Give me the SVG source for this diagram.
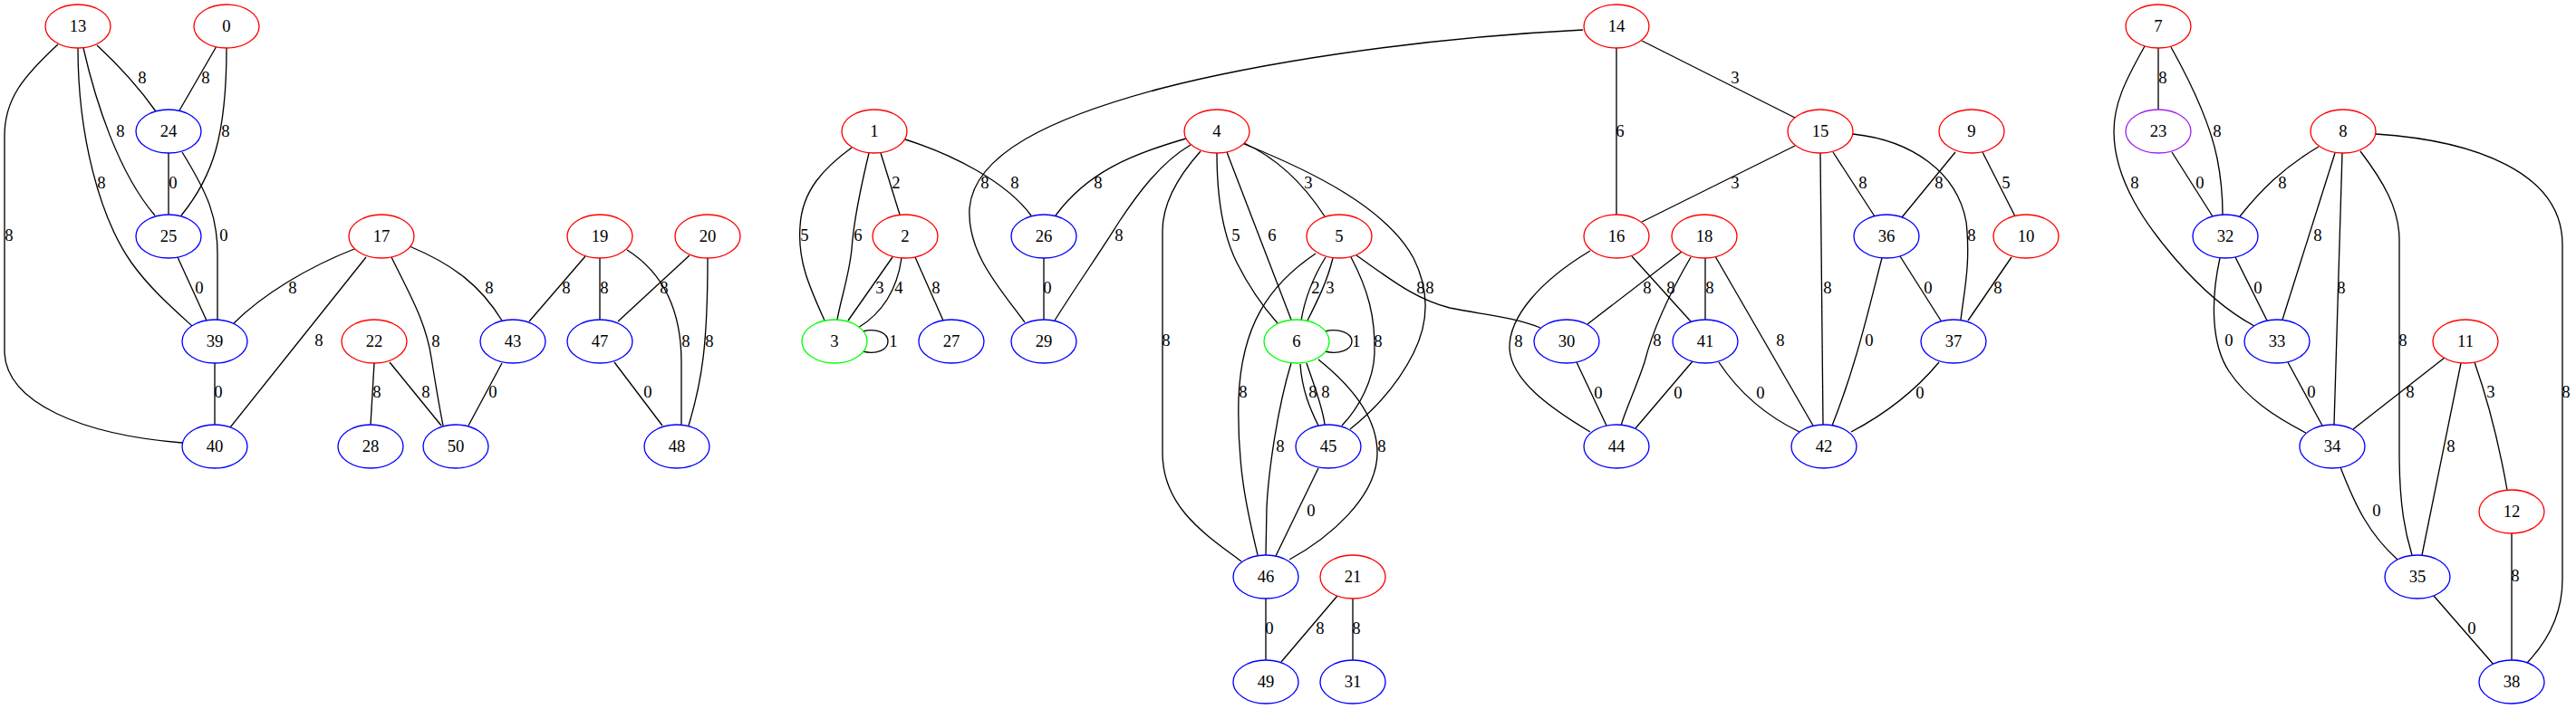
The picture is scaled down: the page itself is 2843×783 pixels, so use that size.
<svg xmlns="http://www.w3.org/2000/svg" width="2843" height="783" viewBox="0 0 2843 783">
<style>
text{font-family:"Liberation Serif","Times New Roman",serif;font-size:18.67px;text-anchor:middle;fill:#000}
.n ellipse{fill:#fff;stroke-width:1.33}
.r{stroke:#ff0000}.b{stroke:#0000ff}.g{stroke:#00ff00}.p{stroke:#a020f0}
#edges path{fill:none;stroke:#000;stroke-width:1.33}
</style>
<rect width="2843" height="783" fill="#fff"/>
<g id="edges">
<g id="e13_24"><path d="M107,50 Q145,85 172,123"/><text x="157" y="92">8</text></g>
<g id="e0_24"><path d="M239,51 L198,122"/><text x="227" y="92">8</text></g>
<g id="e13_25"><path d="M92,53 C105,110 130,190 171,238"/><text x="133" y="151">8</text></g>
<g id="e0_25"><path d="M250,53 C250,150 235,195 200,238"/><text x="249" y="151">8</text></g>
<g id="e13_39"><path d="M86,53 C86,150 110,240 145,290 C165,318 190,340 212,360"/><text x="112" y="208">8</text></g>
<g id="e24_25"><path d="M186,169 L186,237"/><text x="191" y="208">0</text></g>
<g id="e24_39"><path d="M201,168 C230,215 240,240 240,280 L240,353"/><text x="247" y="266">0</text></g>
<g id="e13_40"><path d="M64,49 C25,85 5,110 5,150 L5,390 C8,445 90,480 201,489"/><text x="10" y="266">8</text></g>
<g id="e25_39"><path d="M196,284 L228,354"/><text x="220" y="324">0</text></g>
<g id="e17_39"><path d="M391,275 C340,295 290,325 258,357"/><text x="323" y="324">8</text></g>
<g id="e17_40"><path d="M404,284 L254,472"/><text x="352" y="382">8</text></g>
<g id="e39_40"><path d="M237,401 L237,469"/><text x="241" y="439">0</text></g>
<g id="e22_28"><path d="M413,401 L409,469"/><text x="416" y="439">8</text></g>
<g id="e22_50"><path d="M430,400 L487,470"/><text x="470" y="439">8</text></g>
<g id="e17_50"><path d="M432,284 C452,325 470,355 476,395 C480,420 485,450 489,470"/><text x="481" y="383">8</text></g>
<g id="e17_43"><path d="M452,272 C500,292 530,315 554,354"/><text x="540" y="324">8</text></g>
<g id="e19_43"><path d="M646,283 L584,355"/><text x="625" y="324">8</text></g>
<g id="e19_47"><path d="M662,285 L662,353"/><text x="667" y="324">8</text></g>
<g id="e20_47"><path d="M761,282 L682,355"/><text x="733" y="324">8</text></g>
<g id="e19_48"><path d="M692,276 C730,300 752,340 752,400 L752,469"/><text x="757" y="383">8</text></g>
<g id="e20_48"><path d="M781,285 C781,380 775,420 760,470"/><text x="783" y="383">8</text></g>
<g id="e43_50"><path d="M554,401 L517,470"/><text x="544" y="439">0</text></g>
<g id="e47_48"><path d="M678,400 L731,470"/><text x="715" y="439">0</text></g>

<g id="e1_3a"><path d="M940,163 C910,185 885,210 883,250 C880,290 895,320 910,354"/><text x="888" y="266">5</text></g>
<g id="e1_3b"><path d="M959,169 C948,215 942,245 940,275 C937,305 928,330 924,353"/><text x="947" y="266">6</text></g>
<g id="e1_2"><path d="M972,169 L993,237"/><text x="989" y="208">2</text></g>
<g id="e2_3a"><path d="M985,284 L936,354"/><text x="971" y="324">3</text></g>
<g id="e2_3b"><path d="M995,285 C990,320 975,345 947,362"/><text x="992" y="324">4</text></g>
<g id="e3_3"><path d="M952,366 C968,362 980,368 980,377 C980,386 968,392 952,388"/><text x="986" y="383">1</text></g>
<g id="e2_27"><path d="M1010,284 L1041,354"/><text x="1033" y="324">8</text></g>
<g id="e1_26"><path d="M999,154 C1050,170 1110,200 1138,238"/><text x="1120" y="208">8</text></g>
<g id="e4_26"><path d="M1309,153 C1250,170 1200,190 1165,238"/><text x="1212" y="208">8</text></g>
<g id="e4_29"><path d="M1314,160 C1280,180 1255,215 1235,245 C1210,285 1185,320 1164,354"/><text x="1235" y="266">8</text></g>
<g id="e26_29"><path d="M1152,285 L1152,353"/><text x="1156" y="324">0</text></g>
<g id="e14_29"><path d="M1747,33 C1550,43 1380,72 1280,98 C1160,130 1075,170 1070,230 C1067,280 1105,320 1131,356"/><text x="1087" y="208">8</text></g>
<g id="e4_46"><path d="M1325,167 C1300,195 1283,225 1283,255 L1283,500 C1283,560 1330,590 1370,620"/><text x="1287" y="382">8</text></g>
<g id="e4_6a"><path d="M1343,169 C1343,220 1350,260 1365,290 C1380,320 1395,340 1410,357"/><text x="1364" y="266">5</text></g>
<g id="e4_6b"><path d="M1354,168 L1425,353"/><text x="1404" y="266">6</text></g>
<g id="e4_5"><path d="M1373,158 C1410,175 1440,205 1462,239"/><text x="1444" y="208">3</text></g>
<g id="e4_45"><path d="M1373,159 C1450,190 1530,230 1560,285 C1580,325 1575,360 1560,390 C1545,420 1520,450 1490,474"/><text x="1568" y="324">8</text></g>
<g id="e5_30"><path d="M1497,282 C1530,305 1560,330 1600,340 C1640,348 1670,350 1700,362"/><text x="1578" y="324">8</text></g>
<g id="e5_6a"><path d="M1463,284 C1450,305 1440,330 1436,354"/><text x="1452" y="324">2</text></g>
<g id="e5_6b"><path d="M1471,285 C1465,310 1455,330 1443,354"/><text x="1468" y="324">3</text></g>
<g id="e6_6"><path d="M1462,366 C1478,362 1492,368 1492,377 C1492,386 1478,392 1462,388"/><text x="1497" y="383">1</text></g>
<g id="e5_46"><path d="M1452,280 C1400,315 1370,360 1367,440 C1365,520 1378,570 1388,613"/><text x="1372" y="439">8</text></g>
<g id="e5_45"><path d="M1491,284 C1510,320 1518,350 1517,390 C1516,420 1500,450 1481,470"/><text x="1521" y="383">8</text></g>
<g id="e6_46a"><path d="M1425,401 C1410,450 1400,520 1398,560 L1397,613"/><text x="1413" y="499">8</text></g>
<g id="e6_45a"><path d="M1435,402 C1437,430 1445,450 1455,470"/><text x="1449" y="439">8</text></g>
<g id="e6_45b"><path d="M1442,401 C1450,425 1460,450 1462,469"/><text x="1463" y="439">8</text></g>
<g id="e6_46b"><path d="M1455,397 C1490,425 1520,460 1520,500 C1520,550 1465,595 1423,618"/><text x="1525" y="499">8</text></g>
<g id="e45_46"><path d="M1455,517 L1408,614"/><text x="1447" y="570">0</text></g>
<g id="e46_49"><path d="M1397,661 L1397,729"/><text x="1401" y="700">0</text></g>
<g id="e21_49"><path d="M1476,658 L1414,731"/><text x="1457" y="700">8</text></g>
<g id="e21_31"><path d="M1493,661 L1493,729"/><text x="1497" y="700">8</text></g>

<g id="e14_16"><path d="M1784,53 L1784,237"/><text x="1788" y="151">6</text></g>
<g id="e14_15"><path d="M1812,45 L1981,130"/><text x="1915" y="92">3</text></g>
<g id="e15_16"><path d="M1981,161 L1812,245"/><text x="1915" y="208">3</text></g>
<g id="e15_42"><path d="M2009,169 L2012,469"/><text x="2017" y="324">8</text></g>
<g id="e15_36"><path d="M2023,168 L2069,239"/><text x="2056" y="208">8</text></g>
<g id="e15_37"><path d="M2045,148 C2110,155 2160,190 2170,245 C2175,290 2168,320 2164,353"/><text x="2176" y="266">8</text></g>
<g id="e9_36"><path d="M2158,168 L2099,240"/><text x="2140" y="208">8</text></g>
<g id="e9_10"><path d="M2188,168 L2224,239"/><text x="2214" y="208">5</text></g>
<g id="e10_37"><path d="M2220,284 L2172,354"/><text x="2205" y="324">8</text></g>
<g id="e36_37"><path d="M2097,283 L2142,354"/><text x="2128" y="324">0</text></g>
<g id="e36_42"><path d="M2077,285 C2065,330 2050,400 2022,470"/><text x="2063" y="382">0</text></g>
<g id="e37_42"><path d="M2140,400 C2115,430 2085,455 2043,477"/><text x="2119" y="440">0</text></g>
<g id="e16_44"><path d="M1755,277 C1700,310 1665,350 1666,385 C1668,420 1710,450 1755,477"/><text x="1676" y="383">8</text></g>
<g id="e16_41"><path d="M1801,283 L1866,355"/><text x="1844" y="324">8</text></g>
<g id="e18_30"><path d="M1856,278 L1752,358"/><text x="1818" y="324">8</text></g>
<g id="e18_41"><path d="M1882,285 L1882,353"/><text x="1887" y="324">8</text></g>
<g id="e18_44"><path d="M1866,284 C1845,320 1825,360 1815,400 C1805,430 1795,450 1789,470"/><text x="1829" y="382">8</text></g>
<g id="e18_42"><path d="M1893,283 L2001,470"/><text x="1965" y="382">8</text></g>
<g id="e30_44"><path d="M1740,400 L1773,470"/><text x="1764" y="440">0</text></g>
<g id="e41_44"><path d="M1868,399 L1805,473"/><text x="1852" y="440">0</text></g>
<g id="e41_42"><path d="M1897,400 Q1930,450 1986,477"/><text x="1943" y="440">0</text></g>

<g id="e7_23"><path d="M2382,53 L2382,121"/><text x="2387" y="92">8</text></g>
<g id="e7_32"><path d="M2396,52 C2420,95 2440,140 2447,175 C2452,200 2453,220 2453,237"/><text x="2447" y="151">8</text></g>
<g id="e7_33"><path d="M2367,51 C2345,90 2333,115 2333,145 C2333,200 2370,250 2400,285 C2430,320 2460,345 2488,360"/><text x="2356" y="208">8</text></g>
<g id="e23_32"><path d="M2397,168 L2442,239"/><text x="2428" y="208">0</text></g>
<g id="e8_32"><path d="M2559,162 C2520,185 2495,210 2472,239"/><text x="2519" y="208">8</text></g>
<g id="e8_33"><path d="M2577,169 L2519,353"/><text x="2558" y="266">8</text></g>
<g id="e8_34"><path d="M2585,169 L2576,469"/><text x="2584" y="324">8</text></g>
<g id="e8_35"><path d="M2605,167 C2630,200 2648,230 2648,265 L2648,500 C2648,560 2655,590 2662,613"/><text x="2652" y="382">8</text></g>
<g id="e8_38"><path d="M2622,148 C2730,155 2828,190 2828,270 L2828,640 C2828,680 2810,710 2789,732"/><text x="2832" y="439">8</text></g>
<g id="e32_33"><path d="M2467,284 L2502,354"/><text x="2492" y="324">0</text></g>
<g id="e32_34"><path d="M2450,285 C2440,330 2440,380 2460,410 C2480,440 2510,460 2545,478"/><text x="2460" y="382">0</text></g>
<g id="e33_34"><path d="M2525,400 L2563,470"/><text x="2551" y="439">0</text></g>
<g id="e11_34"><path d="M2698,395 L2597,474"/><text x="2660" y="439">8</text></g>
<g id="e11_35"><path d="M2716,401 L2673,613"/><text x="2705" y="499">8</text></g>
<g id="e11_12"><path d="M2731,400 C2745,440 2758,490 2767,541"/><text x="2749" y="439">3</text></g>
<g id="e34_35"><path d="M2583,516 C2600,560 2615,590 2646,618"/><text x="2623" y="570">0</text></g>
<g id="e12_38"><path d="M2772,589 L2772,729"/><text x="2776" y="642">8</text></g>
<g id="e35_38"><path d="M2686,658 L2753,735"/><text x="2728" y="700">0</text></g>
</g>

<g id="n0" class="n"><ellipse class="r" cx="250" cy="29" rx="36" ry="24"/><text x="250" y="35">0</text></g>
<g id="n1" class="n"><ellipse class="r" cx="965" cy="145" rx="36" ry="24"/><text x="965" y="151">1</text></g>
<g id="n2" class="n"><ellipse class="r" cx="999" cy="261" rx="36" ry="24"/><text x="999" y="267">2</text></g>
<g id="n3" class="n"><ellipse class="g" cx="921" cy="377" rx="36" ry="24"/><text x="921" y="383">3</text></g>
<g id="n4" class="n"><ellipse class="r" cx="1343" cy="145" rx="36" ry="24"/><text x="1343" y="151">4</text></g>
<g id="n5" class="n"><ellipse class="r" cx="1478" cy="261" rx="36" ry="24"/><text x="1478" y="267">5</text></g>
<g id="n6" class="n"><ellipse class="g" cx="1431" cy="377" rx="36" ry="24"/><text x="1431" y="383">6</text></g>
<g id="n7" class="n"><ellipse class="r" cx="2382" cy="29" rx="36" ry="24"/><text x="2382" y="35">7</text></g>
<g id="n8" class="n"><ellipse class="r" cx="2586" cy="145" rx="36" ry="24"/><text x="2586" y="151">8</text></g>
<g id="n9" class="n"><ellipse class="r" cx="2176" cy="145" rx="36" ry="24"/><text x="2176" y="151">9</text></g>
<g id="n10" class="n"><ellipse class="r" cx="2236" cy="261" rx="36" ry="24"/><text x="2236" y="267">10</text></g>
<g id="n11" class="n"><ellipse class="r" cx="2721" cy="377" rx="36" ry="24"/><text x="2721" y="383">11</text></g>
<g id="n12" class="n"><ellipse class="r" cx="2772" cy="565" rx="36" ry="24"/><text x="2772" y="571">12</text></g>
<g id="n13" class="n"><ellipse class="r" cx="86" cy="29" rx="36" ry="24"/><text x="86" y="35">13</text></g>
<g id="n14" class="n"><ellipse class="r" cx="1784" cy="29" rx="36" ry="24"/><text x="1784" y="35">14</text></g>
<g id="n15" class="n"><ellipse class="r" cx="2009" cy="145" rx="36" ry="24"/><text x="2009" y="151">15</text></g>
<g id="n16" class="n"><ellipse class="r" cx="1784" cy="261" rx="36" ry="24"/><text x="1784" y="267">16</text></g>
<g id="n17" class="n"><ellipse class="r" cx="421" cy="261" rx="36" ry="24"/><text x="421" y="267">17</text></g>
<g id="n18" class="n"><ellipse class="r" cx="1881" cy="261" rx="36" ry="24"/><text x="1881" y="267">18</text></g>
<g id="n19" class="n"><ellipse class="r" cx="662" cy="261" rx="36" ry="24"/><text x="662" y="267">19</text></g>
<g id="n20" class="n"><ellipse class="r" cx="781" cy="261" rx="36" ry="24"/><text x="781" y="267">20</text></g>
<g id="n21" class="n"><ellipse class="r" cx="1493" cy="637" rx="36" ry="24"/><text x="1493" y="643">21</text></g>
<g id="n22" class="n"><ellipse class="r" cx="413" cy="377" rx="36" ry="24"/><text x="413" y="383">22</text></g>
<g id="n23" class="n"><ellipse class="p" cx="2382" cy="145" rx="36" ry="24"/><text x="2382" y="151">23</text></g>
<g id="n24" class="n"><ellipse class="b" cx="186" cy="145" rx="36" ry="24"/><text x="186" y="151">24</text></g>
<g id="n25" class="n"><ellipse class="b" cx="186" cy="261" rx="36" ry="24"/><text x="186" y="267">25</text></g>
<g id="n26" class="n"><ellipse class="b" cx="1152" cy="261" rx="36" ry="24"/><text x="1152" y="267">26</text></g>
<g id="n27" class="n"><ellipse class="b" cx="1050" cy="377" rx="36" ry="24"/><text x="1050" y="383">27</text></g>
<g id="n28" class="n"><ellipse class="b" cx="409" cy="493" rx="36" ry="24"/><text x="409" y="499">28</text></g>
<g id="n29" class="n"><ellipse class="b" cx="1152" cy="377" rx="36" ry="24"/><text x="1152" y="383">29</text></g>
<g id="n30" class="n"><ellipse class="b" cx="1729" cy="377" rx="36" ry="24"/><text x="1729" y="383">30</text></g>
<g id="n31" class="n"><ellipse class="b" cx="1493" cy="753" rx="36" ry="24"/><text x="1493" y="759">31</text></g>
<g id="n32" class="n"><ellipse class="b" cx="2456" cy="261" rx="36" ry="24"/><text x="2456" y="267">32</text></g>
<g id="n33" class="n"><ellipse class="b" cx="2513" cy="377" rx="36" ry="24"/><text x="2513" y="383">33</text></g>
<g id="n34" class="n"><ellipse class="b" cx="2574" cy="493" rx="36" ry="24"/><text x="2574" y="499">34</text></g>
<g id="n35" class="n"><ellipse class="b" cx="2668" cy="637" rx="36" ry="24"/><text x="2668" y="643">35</text></g>
<g id="n36" class="n"><ellipse class="b" cx="2082" cy="261" rx="36" ry="24"/><text x="2082" y="267">36</text></g>
<g id="n37" class="n"><ellipse class="b" cx="2156" cy="377" rx="36" ry="24"/><text x="2156" y="383">37</text></g>
<g id="n38" class="n"><ellipse class="b" cx="2772" cy="753" rx="36" ry="24"/><text x="2772" y="759">38</text></g>
<g id="n39" class="n"><ellipse class="b" cx="237" cy="377" rx="36" ry="24"/><text x="237" y="383">39</text></g>
<g id="n40" class="n"><ellipse class="b" cx="237" cy="493" rx="36" ry="24"/><text x="237" y="499">40</text></g>
<g id="n41" class="n"><ellipse class="b" cx="1882" cy="377" rx="36" ry="24"/><text x="1882" y="383">41</text></g>
<g id="n42" class="n"><ellipse class="b" cx="2013" cy="493" rx="36" ry="24"/><text x="2013" y="499">42</text></g>
<g id="n43" class="n"><ellipse class="b" cx="566" cy="377" rx="36" ry="24"/><text x="566" y="383">43</text></g>
<g id="n44" class="n"><ellipse class="b" cx="1784" cy="493" rx="36" ry="24"/><text x="1784" y="499">44</text></g>
<g id="n45" class="n"><ellipse class="b" cx="1466" cy="493" rx="36" ry="24"/><text x="1466" y="499">45</text></g>
<g id="n46" class="n"><ellipse class="b" cx="1397" cy="637" rx="36" ry="24"/><text x="1397" y="643">46</text></g>
<g id="n47" class="n"><ellipse class="b" cx="662" cy="377" rx="36" ry="24"/><text x="662" y="383">47</text></g>
<g id="n48" class="n"><ellipse class="b" cx="747" cy="493" rx="36" ry="24"/><text x="747" y="499">48</text></g>
<g id="n49" class="n"><ellipse class="b" cx="1397" cy="753" rx="36" ry="24"/><text x="1397" y="759">49</text></g>
<g id="n50" class="n"><ellipse class="b" cx="503" cy="493" rx="36" ry="24"/><text x="503" y="499">50</text></g>
</svg>
